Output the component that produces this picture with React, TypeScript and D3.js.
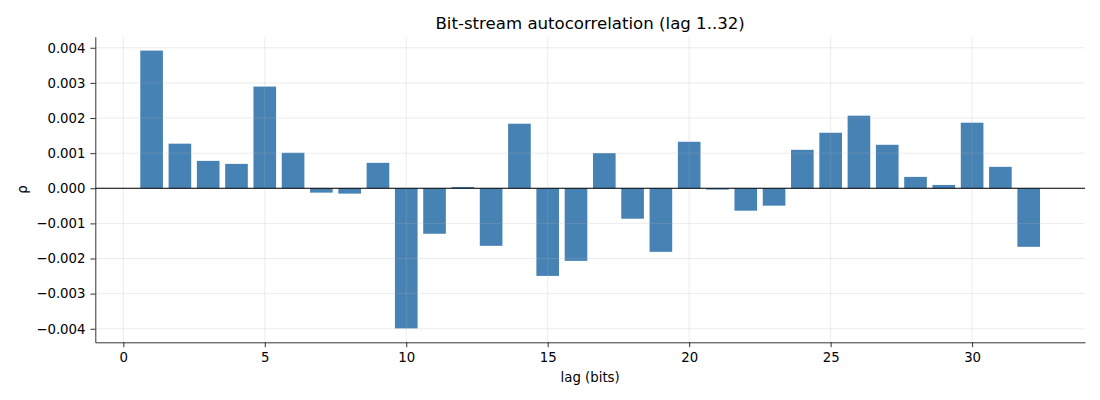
import React, { useEffect, useRef } from "react";
import * as d3 from "d3";

const lags: number[] = Array.from({ length: 32 }, (_, i) => i + 1);
const rho: number[] = [
  0.00392, 0.00127, 0.00078, 0.000695, 0.002895, 0.00101, -0.000124, -0.000152,
  0.000724, -0.00399, -0.001295, 0.000038, -0.001638, 0.001838, -0.002495, -0.002067,
  0.001, -0.000867, -0.00181, 0.001324, -0.000038, -0.000638, -0.000495, 0.001095,
  0.001581, 0.002067, 0.001238, 0.000324, 0.000095, 0.001867, 0.00061, -0.001667,
];
const xTicks: number[] = [0, 5, 10, 15, 20, 25, 30];
const yTicks: number[] = [-0.004, -0.003, -0.002, -0.001, 0, 0.001, 0.002, 0.003, 0.004];
const title = "Bit-stream autocorrelation (lag 1..32)";
const xLabel = "lag (bits)";
const yLabel = "ρ";

const W = 1100;
const H = 400;
const M = { left: 95.3, right: 1085, top: 36.7, bottom: 342.3 };
const FONT = "DejaVu Sans, sans-serif";

export default function App() {
  const ref = useRef<SVGSVGElement | null>(null);

  useEffect(() => {
    document.body.style.margin = "0";
    const svg = d3.select(ref.current);
    svg.selectAll("*").remove();

    const barW = 0.8;
    const xmin = d3.min(lags)! - barW / 2;
    const xmax = d3.max(lags)! + barW / 2;
    const xpad = (xmax - xmin) * 0.05;
    const x = d3.scaleLinear().domain([xmin - xpad, xmax + xpad]).range([M.left, M.right]);

    const ymin = Math.min(0, d3.min(rho)!);
    const ymax = Math.max(0, d3.max(rho)!);
    const ypad = (ymax - ymin) * 0.05;
    const y = d3.scaleLinear().domain([ymin - ypad, ymax + ypad]).range([M.bottom, M.top]);

    svg.append("rect").attr("width", W).attr("height", H).attr("fill", "white");

    // bars
    svg
      .append("g")
      .selectAll("rect")
      .data(lags)
      .join("rect")
      .attr("x", (d) => x(d - barW / 2))
      .attr("width", (d) => x(d + barW / 2) - x(d - barW / 2))
      .attr("y", (_, i) => y(Math.max(0, rho[i])))
      .attr("height", (_, i) => Math.abs(y(rho[i]) - y(0)))
      .attr("fill", "#4682b4");

    // grid
    const grid = svg.append("g").attr("stroke", "#b0b0b0").attr("stroke-opacity", 0.3).attr("stroke-width", 0.8);
    xTicks.forEach((t) => {
      grid.append("line").attr("x1", x(t)).attr("x2", x(t)).attr("y1", M.top).attr("y2", M.bottom);
    });
    yTicks.forEach((t) => {
      grid.append("line").attr("x1", M.left).attr("x2", M.right).attr("y1", y(t)).attr("y2", y(t));
    });

    // zero line
    svg
      .append("line")
      .attr("x1", M.left)
      .attr("x2", M.right)
      .attr("y1", y(0))
      .attr("y2", y(0))
      .attr("stroke", "black")
      .attr("stroke-width", 1);

    // axes
    const xAxis = d3
      .axisBottom(x)
      .tickValues(xTicks)
      .tickFormat((d) => String(d))
      .tickSize(4.9)
      .tickPadding(4.9)
      .tickSizeOuter(0);
    const gx = svg.append("g").attr("transform", `translate(0,${M.bottom})`).call(xAxis);
    const yAxis = d3
      .axisLeft(y)
      .tickValues(yTicks)
      .tickFormat((d) => d3.format(".3f")(d as number).replace("-", "\u2212"))
      .tickSize(4.9)
      .tickPadding(4.9)
      .tickSizeOuter(0);
    const gy = svg.append("g").attr("transform", `translate(${M.left},0)`).call(yAxis);
    [gx, gy].forEach((g) => {
      g.selectAll("text").attr("font-family", FONT).attr("font-size", 13.3).attr("fill", "black");
      g.selectAll("line").attr("stroke", "black").attr("stroke-width", 0.8);
      g.select(".domain").attr("stroke", "black").attr("stroke-width", 0.8);
    });

    svg
      .append("text")
      .attr("x", (M.left + M.right) / 2)
      .attr("y", 29.3)
      .attr("text-anchor", "middle")
      .attr("font-family", FONT)
      .attr("font-size", 16.6)
      .text(title);

    svg
      .append("text")
      .attr("x", (M.left + M.right) / 2)
      .attr("y", 382)
      .attr("text-anchor", "middle")
      .attr("font-family", FONT)
      .attr("font-size", 13.3)
      .text(xLabel);

    svg
      .append("text")
      .attr("transform", `translate(27,${(M.top + M.bottom) / 2}) rotate(-90)`)
      .attr("text-anchor", "middle")
      .attr("font-family", FONT)
      .attr("font-size", 13.3)
      .text(yLabel);
  }, []);

  return <svg ref={ref} width={W} height={H} style={{ display: "block" }} />;
}
